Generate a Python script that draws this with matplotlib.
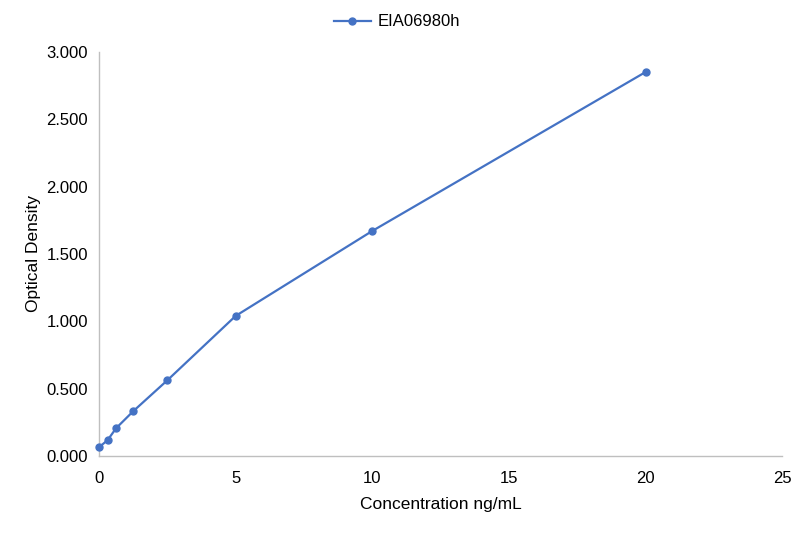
import matplotlib
matplotlib.use("Agg")
import matplotlib.pyplot as plt

plt.rcParams['font.family'] = ['Liberation Sans', 'DejaVu Sans']

# standard curve readings
conc = [0, 0.3125, 0.625, 1.25, 2.5, 5, 10, 20]
od = [0.065, 0.117, 0.206, 0.332, 0.562, 1.040, 1.671, 2.851]
series_name = 'EIA06980h'
xticks = [0, 5, 10, 15, 20, 25]
yticks = [0, 0.5, 1.0, 1.5, 2.0, 2.5, 3.0]

fig = plt.figure(figsize=(8.01, 5.33), dpi=100)
ax = fig.add_axes([0.1236, 0.1445, 0.853, 0.758])

ax.plot(conc, od, color='#4472C4', marker='o', markersize=5, linewidth=1.6,
        label=series_name, clip_on=False, zorder=3)

ax.set_xlim(0, 25)
ax.set_ylim(0, 3.0)
ax.set_xticks(xticks)
ax.set_yticks(yticks)
ax.set_yticklabels(['%.3f' % v for v in yticks])
ax.tick_params(axis='both', length=0, labelsize=12, colors='#000000')
ax.tick_params(axis='x', pad=10.5)
ax.tick_params(axis='y', pad=8)

for s in ['top', 'right']:
    ax.spines[s].set_visible(False)
for s in ['left', 'bottom']:
    ax.spines[s].set_color('#BFBFBF')
    ax.spines[s].set_linewidth(1)

ax.set_xlabel('Concentration ng/mL', fontsize=12.5, labelpad=8)
ax.set_ylabel('Optical Density', fontsize=12.5, labelpad=4)

ax.legend(loc='upper center', bbox_to_anchor=(0.436, 1.13), frameon=False, fontsize=12,
          handlelength=2.2, handletextpad=0.4)

fig.savefig('out.png', dpi=100)
